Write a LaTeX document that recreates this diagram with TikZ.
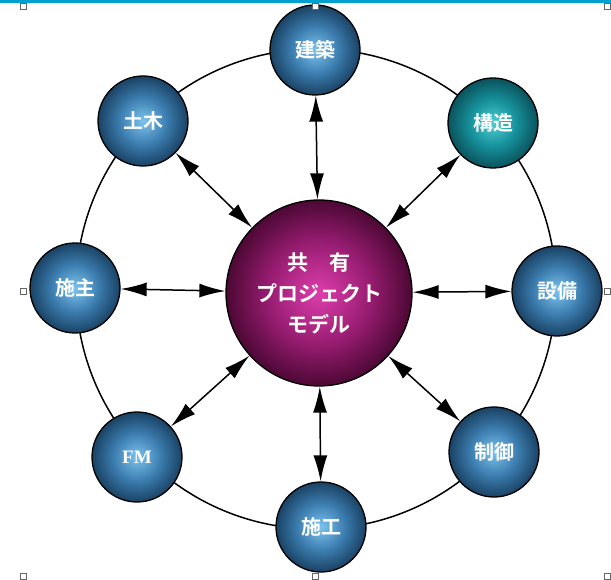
\documentclass[tikz,border=0pt]{standalone}
\usepackage{fontspec}
\newfontfamily\jp{Noto Sans CJK JP}[BoldFont={Noto Sans CJK JP Bold}]
\newfontfamily\serifb{Liberation Serif}
\usetikzlibrary{arrows.meta}
\definecolor{bA}{RGB}{125,195,238}
\definecolor{bB}{RGB}{60,126,176}
\definecolor{bC}{RGB}{26,66,100}
\definecolor{tA}{RGB}{80,205,212}
\definecolor{tB}{RGB}{22,145,155}
\definecolor{tC}{RGB}{10,82,92}
\definecolor{mA}{RGB}{222,62,172}
\definecolor{mB}{RGB}{150,28,112}
\definecolor{mC}{RGB}{76,8,52}
\definecolor{barblue}{RGB}{0,160,208}
\pgfdeclareradialshading{ballblue}{\pgfpoint{0bp}{0bp}}{color(0bp)=(bA); color(13bp)=(bB); color(25bp)=(bC); color(50bp)=(bC)}
\pgfdeclareradialshading{ballteal}{\pgfpoint{0bp}{0bp}}{color(0bp)=(tA); color(13bp)=(tB); color(25bp)=(tC); color(50bp)=(tC)}
\pgfdeclareradialshading{ballmag}{\pgfpoint{0bp}{0bp}}{color(0bp)=(mA); color(14bp)=(mB); color(25bp)=(mC); color(50bp)=(mC)}
\tikzset{
  outer/.style={circle, draw=black, line width=1.3pt, minimum size=90pt, inner sep=0pt,
    shading=ballblue, text=white, font=\jp\bfseries\fontsize{20}{22}\selectfont},
  tealball/.style={outer, shading=ballteal},
  core/.style={circle, draw=black, line width=1.3pt, minimum size=186pt, inner sep=0pt,
    shading=ballmag, text=white, align=center, font=\jp\bfseries\fontsize{21}{31}\selectfont},
  link/.style={line width=1.5pt, {Latex[length=26pt,width=14pt]}-{Latex[length=26pt,width=14pt]}},
  handle/.style={draw=gray!80!black, fill=white, line width=1pt, minimum size=6pt, inner sep=0pt}
}
\begin{document}
\begin{tikzpicture}[x=1pt,y=-1pt]
\useasboundingbox (0,0) rectangle (611,580);
\fill[barblue] (0,0) rectangle (611,3);
\coordinate (rc) at (316,289);
\draw[line width=1.5pt] (rc) circle (240pt);
\node[core] (core) at (319,293) {共\hspace{1em}有\\プロジェクト\\モデル};
\node[outer] (kenchiku) at (315,50) {建築};
\node[tealball] (kozo) at (493,123) {構造};
\node[outer] (setsubi) at (557,291) {設備};
\node[outer] (seigyo) at (494,452) {制御};
\node[outer] (seko) at (321,527) {施工};
\node[outer, font=\serifb\bfseries\fontsize{19}{21}\selectfont] (fm) at (137,457) {FM};
\node[outer] (seshu) at (75,288) {施主};
\node[outer] (doboku) at (143,121) {土木};
\foreach \n in {kenchiku,kozo,setsubi,seigyo,seko,fm,seshu,doboku}
  \draw[link] (core) -- (\n);
\node[handle] (h1) at (23,7) {};
\node[handle] (h2) at (315,7) {};
\node[handle] (h3) at (607,7) {};
\node[handle] (h4) at (23,292) {};
\node[handle] (h5) at (607,292) {};
\node[handle] (h6) at (23,576) {};
\node[handle] (h7) at (315,576) {};
\node[handle] (h8) at (607,576) {};
\end{tikzpicture}
\end{document}
